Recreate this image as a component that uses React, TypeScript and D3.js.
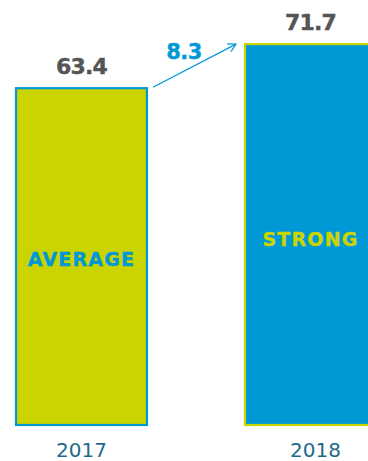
import React from "react";
import * as d3 from "d3";

const years = ["2017", "2018"];
const values = [63.4, 71.7];
const ratings = ["AVERAGE", "STRONG"];
const change = "8.3";

const W = 368, H = 461;
const GREEN = "#c9d400";
const BLUE = "#0098d5";

export default function App() {
  const x = d3.scaleBand<string>().domain(years).range([16, 376]).paddingInner(0.428).paddingOuter(0);
  const y = d3.scaleLinear().domain([0, 80]).range([425, 0]);
  const bw = x.bandwidth();
  const fills = [GREEN, BLUE];
  const strokes = [BLUE, GREEN];
  const ratingColors = [BLUE, GREEN];
  const ratingY = [266, 246];
  const x0 = (x(years[0]) as number) + bw + 6;
  const y0 = y(values[0]) - 1;
  const x1 = (x(years[1]) as number) - 9;
  const y1 = y(values[1]);
  const ang = Math.atan2(y1 - y0, x1 - x0);
  const ah = 9;
  const headPts = [
    [x1 - ah * Math.cos(ang - 0.5), y1 - ah * Math.sin(ang - 0.5)],
    [x1, y1],
    [x1 - ah * Math.cos(ang + 0.5), y1 - ah * Math.sin(ang + 0.5)],
  ];
  return (
    <svg width={W} height={H} style={{ position: "absolute", left: 0, top: 0, display: "block" }}>
      {years.map((yr, i) => {
        const bx = x(yr) as number;
        const cx = bx + bw / 2;
        return (
          <g key={yr}>
            <rect x={bx} y={y(values[i])} width={bw} height={y(0) - y(values[i])} fill={fills[i]} stroke={strokes[i]} strokeWidth={2.2} />
            <text x={cx} y={y(values[i]) - 14} textAnchor="middle" fontFamily="DejaVu Sans" fontWeight="bold" fontSize={22} letterSpacing={-0.8} fill="#555555" stroke="#555555" strokeWidth={0.4}>{values[i].toFixed(1)}</text>
            <text x={cx} y={ratingY[i]} textAnchor="middle" fontFamily="DejaVu Sans" fontWeight="bold" fontSize={19} letterSpacing={1.2} fill={ratingColors[i]} stroke={ratingColors[i]} strokeWidth={0.4}>{ratings[i]}</text>
            <text x={cx + (i === 1 ? 5 : 0)} y={457} textAnchor="middle" fontFamily="DejaVu Sans" fontSize={20} fill="#1f6a8a">{yr}</text>
          </g>
        );
      })}
      <line x1={x0} y1={y0} x2={x1} y2={y1} stroke={BLUE} strokeWidth={1.2} />
      <polyline points={headPts.map(p => p.join(",")).join(" ")} fill="none" stroke={BLUE} strokeWidth={1.2} />
      <text x={184} y={59} textAnchor="middle" fontFamily="DejaVu Sans" fontWeight="bold" fontSize={21} letterSpacing={-0.6} fill={BLUE} stroke={BLUE} strokeWidth={0.4}>{change}</text>
    </svg>
  );
}
